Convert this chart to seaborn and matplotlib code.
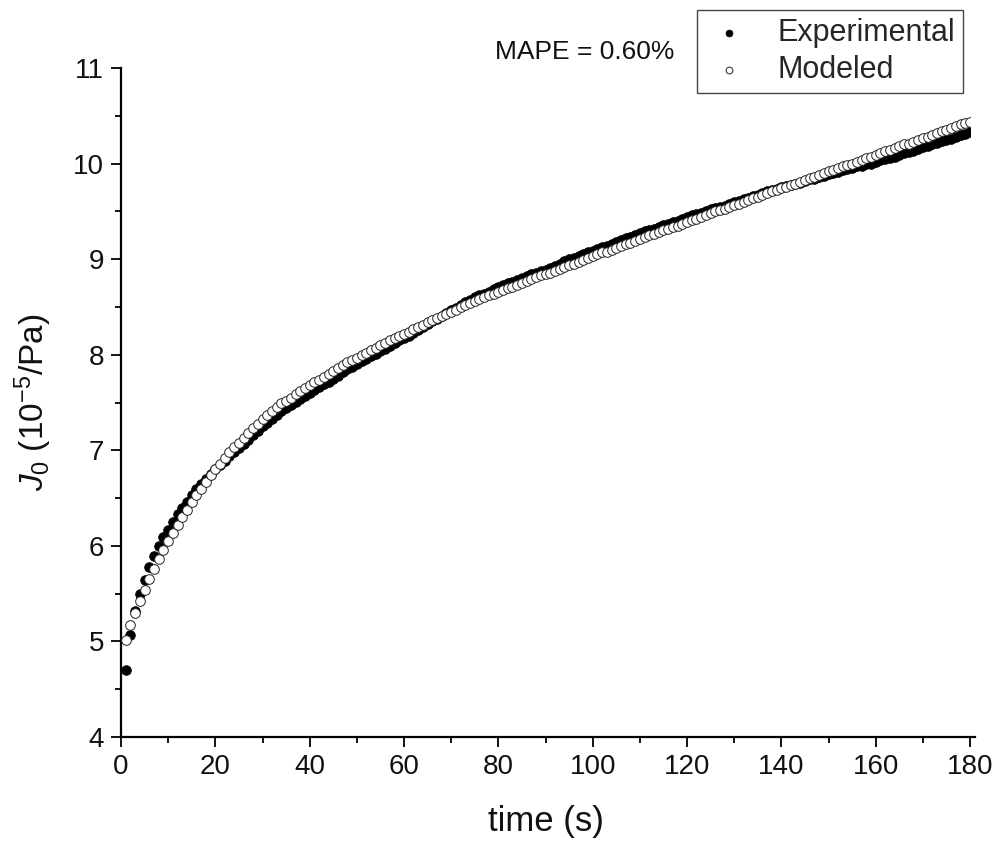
import numpy as np
import pandas as pd
import matplotlib
matplotlib.use("Agg")
import matplotlib.pyplot as plt
import seaborn as sns
from matplotlib.ticker import MultipleLocator

time_s = list(range(1, 181))

experimental = [
    4.70, 5.07, 5.32, 5.50, 5.64, 5.78, 5.89, 6.00, 6.09, 6.17,
    6.25, 6.33, 6.40, 6.46, 6.53, 6.59, 6.65, 6.70, 6.75, 6.80,
    6.85, 6.89, 6.94, 6.98, 7.02, 7.07, 7.11, 7.16, 7.20, 7.25,
    7.29, 7.33, 7.37, 7.41, 7.44, 7.47, 7.51, 7.54, 7.57, 7.60,
    7.63, 7.66, 7.69, 7.72, 7.75, 7.78, 7.82, 7.85, 7.87, 7.90,
    7.93, 7.96, 7.99, 8.01, 8.04, 8.06, 8.09, 8.12, 8.15, 8.17,
    8.20, 8.23, 8.26, 8.29, 8.32, 8.35, 8.37, 8.41, 8.44, 8.47,
    8.49, 8.52, 8.55, 8.57, 8.60, 8.62, 8.64, 8.66, 8.69, 8.71,
    8.73, 8.75, 8.76, 8.78, 8.80, 8.82, 8.84, 8.86, 8.88, 8.89,
    8.91, 8.93, 8.95, 8.98, 9.00, 9.01, 9.03, 9.05, 9.07, 9.09,
    9.11, 9.13, 9.14, 9.16, 9.18, 9.20, 9.22, 9.23, 9.25, 9.27,
    9.29, 9.31, 9.32, 9.34, 9.36, 9.37, 9.39, 9.40, 9.42, 9.44,
    9.46, 9.47, 9.48, 9.50, 9.52, 9.54, 9.55, 9.56, 9.58, 9.60,
    9.61, 9.63, 9.64, 9.66, 9.67, 9.69, 9.71, 9.72, 9.73, 9.75,
    9.77, 9.78, 9.79, 9.80, 9.82, 9.84, 9.84, 9.86, 9.87, 9.89,
    9.90, 9.91, 9.93, 9.94, 9.95, 9.97, 9.98, 10.00, 10.00, 10.02,
    10.04, 10.05, 10.06, 10.07, 10.09, 10.11, 10.12, 10.13, 10.15, 10.17,
    10.18, 10.20, 10.22, 10.24, 10.25, 10.26, 10.28, 10.30, 10.31, 10.33,
]

modeled = [
    5.02, 5.17, 5.30, 5.42, 5.54, 5.65, 5.76, 5.86, 5.96, 6.05,
    6.14, 6.22, 6.30, 6.38, 6.46, 6.53, 6.60, 6.67, 6.74, 6.80,
    6.86, 6.92, 6.98, 7.03, 7.08, 7.13, 7.18, 7.23, 7.28, 7.33,
    7.37, 7.41, 7.45, 7.49, 7.52, 7.55, 7.59, 7.62, 7.65, 7.68,
    7.71, 7.74, 7.77, 7.80, 7.83, 7.86, 7.89, 7.92, 7.94, 7.97,
    8.00, 8.02, 8.05, 8.07, 8.10, 8.12, 8.15, 8.17, 8.20, 8.22,
    8.24, 8.27, 8.29, 8.31, 8.34, 8.36, 8.38, 8.41, 8.43, 8.45,
    8.47, 8.50, 8.52, 8.54, 8.56, 8.58, 8.60, 8.62, 8.64, 8.66,
    8.68, 8.70, 8.71, 8.73, 8.75, 8.77, 8.79, 8.81, 8.83, 8.84,
    8.86, 8.88, 8.90, 8.92, 8.94, 8.95, 8.97, 8.99, 9.01, 9.03,
    9.05, 9.07, 9.08, 9.10, 9.12, 9.14, 9.16, 9.17, 9.19, 9.21,
    9.23, 9.25, 9.26, 9.28, 9.30, 9.32, 9.34, 9.35, 9.37, 9.39,
    9.41, 9.42, 9.44, 9.46, 9.48, 9.50, 9.51, 9.53, 9.55, 9.57,
    9.58, 9.60, 9.62, 9.64, 9.65, 9.67, 9.69, 9.71, 9.72, 9.74,
    9.76, 9.78, 9.79, 9.81, 9.83, 9.85, 9.86, 9.88, 9.90, 9.92,
    9.93, 9.95, 9.97, 9.99, 10.00, 10.02, 10.04, 10.06, 10.07, 10.09,
    10.11, 10.13, 10.14, 10.16, 10.18, 10.20, 10.21, 10.23, 10.25, 10.27,
    10.28, 10.30, 10.32, 10.34, 10.35, 10.37, 10.39, 10.41, 10.42, 10.44,
]

x_ticks = [0, 20, 40, 60, 80, 100, 120, 140, 160, 180]
y_ticks = [4, 5, 6, 7, 8, 9, 10, 11]
annotation = "MAPE = 0.60%"

sns.set_theme(style="ticks")
plt.rcParams["font.family"] = ["Liberation Sans", "DejaVu Sans"]
plt.rcParams["mathtext.fontset"] = "custom"
plt.rcParams["mathtext.rm"] = "Liberation Sans"
plt.rcParams["mathtext.it"] = "Liberation Sans:italic"

df = pd.DataFrame({"time": time_s, "exp": experimental, "mod": modeled})

fig = plt.figure(figsize=(10, 8.46), dpi=100)
ax = fig.add_axes([0.121, 0.1288, 0.849, 0.7908])

sns.scatterplot(data=df, x="time", y="exp", ax=ax, color="black",
                edgecolor="black", linewidth=0.6, s=48, label="Experimental", zorder=2)
sns.scatterplot(data=df, x="time", y="mod", ax=ax, color="white",
                edgecolor="#222222", linewidth=0.7, s=48, label="Modeled", zorder=3)

ax.set_xlim(0, 180)
ax.set_ylim(4, 11)
ax.set_xticks(x_ticks)
ax.set_yticks(y_ticks)
ax.xaxis.set_minor_locator(MultipleLocator(10))
ax.yaxis.set_minor_locator(MultipleLocator(0.5))
ax.tick_params(which="major", direction="out", length=7, width=1.3,
               labelsize=20, color="black", labelcolor="#111111", pad=5)
ax.tick_params(which="minor", direction="out", length=4, width=1.3, color="black")
for side in ["top", "right"]:
    ax.spines[side].set_visible(False)
for side in ["left", "bottom"]:
    ax.spines[side].set_linewidth(1.6)
    ax.spines[side].set_color("black")
ax.spines["bottom"].set_bounds(0, 181)

ax.set_xlabel("time (s)", fontsize=25, labelpad=18, color="#111111")
ax.set_ylabel(r"$J_0$ (10$^{-5}$/Pa)", fontsize=24, labelpad=14, color="#111111")

fig.text(0.495, 0.939, annotation, fontsize=19, color="#111111", va="center", ha="left")

leg = ax.legend(loc="upper right", bbox_to_anchor=(0.963, 0.988),
                bbox_transform=fig.transFigure, fontsize=22, frameon=True,
                fancybox=False, markerscale=0.7, handlelength=1.6,
                handletextpad=0.8, labelspacing=0.25, borderpad=0.25,
                borderaxespad=0)
leg.get_frame().set_edgecolor("#444444")
leg.get_frame().set_linewidth(1.0)
leg.get_frame().set_alpha(1)

fig.savefig("out.png", dpi=100)
